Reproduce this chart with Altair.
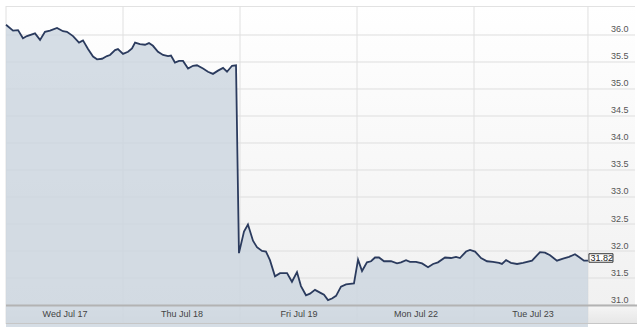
import altair as alt
import pandas as pd

# ---- data ----
day_pos = [0.000, 0.060, 0.103, 0.145, 0.179, 0.248, 0.291, 0.333, 0.376, 0.436,
           0.487, 0.521, 0.573, 0.624, 0.658, 0.701, 0.744, 0.778, 0.821, 0.863,
           0.889, 0.932, 0.957, 1.000, 1.043, 1.077, 1.103, 1.145, 1.188, 1.222,
           1.256, 1.299, 1.342, 1.385, 1.410, 1.444, 1.479, 1.513, 1.556, 1.598,
           1.632, 1.684, 1.726, 1.769, 1.812, 1.855, 1.889, 1.932, 1.966,
           1.991, 2.034, 2.068, 2.111, 2.145, 2.188, 2.222, 2.256, 2.299, 2.342,
           2.402, 2.444, 2.487, 2.521, 2.564, 2.598, 2.641, 2.692, 2.718, 2.752,
           2.786, 2.821, 2.863, 2.906, 2.940, 2.974,
           3.009, 3.043, 3.085, 3.120, 3.154, 3.188, 3.231, 3.291, 3.342, 3.376,
           3.419, 3.453, 3.504, 3.556, 3.607, 3.650, 3.692, 3.752, 3.803, 3.846,
           3.880, 3.932, 3.966,
           4.009, 4.060, 4.111, 4.162, 4.214, 4.239, 4.274, 4.316, 4.368, 4.419,
           4.496, 4.530, 4.564, 4.607, 4.650, 4.709, 4.761, 4.812, 4.863, 4.897,
           4.940, 4.974]

price = [36.19, 36.08, 36.09, 35.94, 35.98, 36.03, 35.91, 36.06, 36.08, 36.13,
         36.07, 36.06, 35.98, 35.86, 35.90, 35.74, 35.60, 35.55, 35.56, 35.61,
         35.63, 35.72, 35.74, 35.65, 35.69, 35.75, 35.86, 35.83, 35.82, 35.85,
         35.80, 35.69, 35.63, 35.61, 35.62, 35.49, 35.52, 35.52, 35.38, 35.43,
         35.44, 35.38, 35.32, 35.28, 35.34, 35.39, 35.32, 35.43, 35.44,
         31.96, 32.36, 32.49, 32.19, 32.07, 32.00, 31.99, 31.83, 31.53, 31.59,
         31.59, 31.43, 31.61, 31.35, 31.18, 31.21, 31.28, 31.22, 31.19, 31.09,
         31.12, 31.17, 31.34, 31.38, 31.39, 31.40,
         31.84, 31.63, 31.79, 31.81, 31.88, 31.88, 31.81, 31.81, 31.77, 31.79,
         31.83, 31.80, 31.80, 31.77, 31.70, 31.76, 31.79, 31.88, 31.87, 31.89,
         31.87, 31.99, 32.02,
         31.99, 31.87, 31.81, 31.80, 31.78, 31.76, 31.83, 31.78, 31.76, 31.78,
         31.82, 31.90, 31.98, 31.97, 31.92, 31.82, 31.86, 31.89, 31.94, 31.89,
         31.82, 31.82]

day_labels = ["Wed Jul 17", "Thu Jul 18", "Fri Jul 19", "Mon Jul 22", "Tue Jul 23"]
label_pos = [0.5, 1.5, 2.5, 3.5, 4.5]
y_ticks = [31.0, 31.5, 32.0, 32.5, 33.0, 33.5, 34.0, 34.5, 35.0, 35.5, 36.0]
day_lines = [0, 1, 2, 3, 4, 4.974]
last_price = 31.82
last_pos = 4.974

W, H = 629, 300
FONT = "Liberation Sans"

xs = alt.Scale(domain=[0, 5.376], nice=False, zero=False)
ys = alt.Scale(domain=[30.9815, 36.537], nice=False, zero=False)

df = pd.DataFrame({"t": day_pos, "p": price})
one = pd.DataFrame({"a": [0]})

label_expr = "[" + ",".join("'%s'" % s for s in day_labels) + "][floor(datum.value)]"

x_axis = alt.Axis(values=label_pos, labelExpr=label_expr, title=None,
                  grid=False, domain=False, ticks=False, labelPadding=3,
                  labelFont=FONT, labelFontSize=9, labelColor="#444444",
                  labelAngle=0, zindex=1)
y_axis = alt.Axis(orient="right", values=y_ticks, format=".1f", title=None,
                  grid=False, domain=False, ticks=False, labelAlign="right",
                  labelPadding=-7, labelBaseline="alphabetic", labelOffset=-3,
                  labelFont=FONT, labelFontSize=9, labelColor="#555555",
                  zindex=1)

bg = alt.Chart(one).mark_rect(
    color=alt.Gradient(gradient="linear", x1=0, x2=0, y1=0, y2=1,
                       stops=[alt.GradientStop(color="#ffffff", offset=0),
                              alt.GradientStop(color="#f1f1f1", offset=1)])
).encode(x=alt.value(0), x2=alt.value(W), y=alt.value(0), y2=alt.value(H))

band = alt.Chart(one).mark_rect(
    color=alt.Gradient(gradient="linear", x1=0, x2=0, y1=0, y2=1,
                       stops=[alt.GradientStop(color="#f5f5f5", offset=0),
                              alt.GradientStop(color="#e6e6e6", offset=1)])
).encode(x=alt.value(0), x2=alt.value(W + 2), y=alt.value(H), y2=alt.value(H + 18))

hgrid = alt.Chart(pd.DataFrame({"v": y_ticks})).mark_rule(
    color="#dedede", strokeWidth=1
).encode(y=alt.Y("v:Q", scale=ys, axis=y_axis), x=alt.value(0), x2=alt.value(W))

topline = alt.Chart(one).mark_rule(color="#e2e2e2", strokeWidth=1).encode(
    x=alt.value(0), x2=alt.value(W), y=alt.value(0.5))

vgrid = alt.Chart(pd.DataFrame({"d": day_lines})).mark_rule(
    color="#e0e0e0", strokeWidth=1
).encode(x=alt.X("d:Q", scale=xs, axis=x_axis), y=alt.value(0), y2=alt.value(H + 18))

area = alt.Chart(df).mark_area(color="#cbd4df", opacity=0.8).encode(
    x=alt.X("t:Q", scale=xs, axis=x_axis),
    y=alt.Y("p:Q", scale=ys, axis=y_axis),
)

line = alt.Chart(df).mark_line(color="#2b3b5e", strokeWidth=1.8).encode(
    x=alt.X("t:Q", scale=xs, axis=x_axis),
    y=alt.Y("p:Q", scale=ys, axis=y_axis),
)

band_top = alt.Chart(one).mark_rule(color="#b3b3b3", strokeWidth=2).encode(
    x=alt.value(0), x2=alt.value(W + 2), y=alt.value(H - 0.5))
band_bottom = alt.Chart(one).mark_rule(color="#c6c6c6", strokeWidth=1).encode(
    x=alt.value(0), x2=alt.value(W + 2), y=alt.value(H + 17.5))

last_df = pd.DataFrame({"t": [last_pos], "p": [last_price], "lbl": ["%.2f" % last_price]})
box = alt.Chart(last_df).mark_rect(
    fill="white", stroke="#333333", strokeWidth=1,
    xOffset=1, x2Offset=25, yOffset=-7, y2Offset=1.5
).encode(x=alt.X("t:Q", scale=xs, axis=x_axis), x2="t:Q",
         y=alt.Y("p:Q", scale=ys, axis=y_axis), y2="p:Q")
box_text = alt.Chart(last_df).mark_text(
    align="left", baseline="alphabetic", dx=2.5, dy=0.5,
    font=FONT, fontSize=9, color="#222222"
).encode(x=alt.X("t:Q", scale=xs, axis=x_axis),
         y=alt.Y("p:Q", scale=ys, axis=y_axis), text="lbl:N")

chart = alt.layer(
    bg, band, hgrid, topline, vgrid, area, line, band_top, band_bottom, box, box_text
).properties(
    width=W, height=H,
    autosize=alt.AutoSizeParams(type="none"),
    padding={"left": 6, "top": 6, "right": 5, "bottom": 21},
    background="white",
).configure_view(stroke=None)

chart.save("out.html", embed_options={"renderer": "svg", "actions": False})
